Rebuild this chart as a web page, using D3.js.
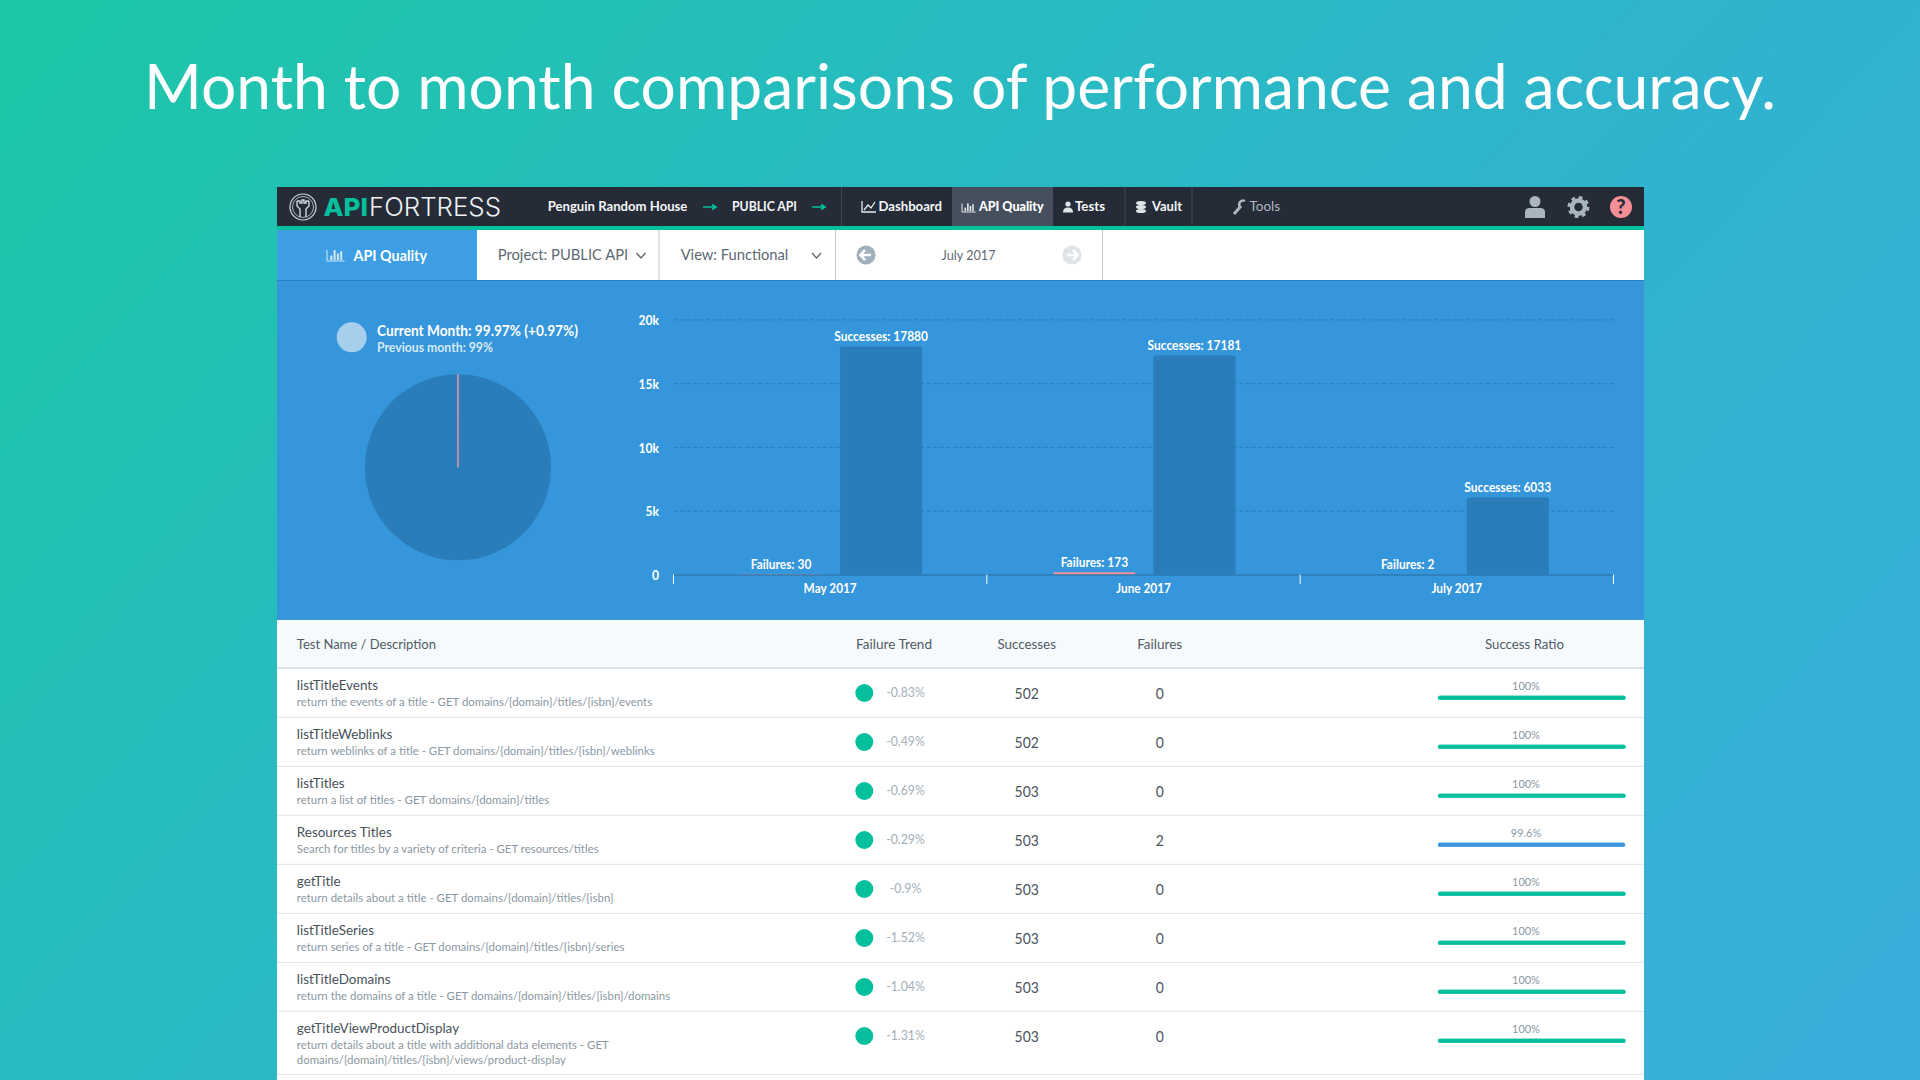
<!DOCTYPE html>
<html><head><meta charset="utf-8">
<script src="https://cdnjs.cloudflare.com/ajax/libs/d3/7.8.5/d3.min.js"></script>
<style>
html,body{margin:0;padding:0;width:1920px;height:1080px;overflow:hidden;background:#26b8c0}
svg{display:block;font-family:Lato,sans-serif}
</style></head><body>
<script>
// ---------- data ----------
const months = ["May 2017","June 2017","July 2017"];
const successes = [17880,17181,6033];
const failures = [30,173,2];
const yTicks = [0,5000,10000,15000,20000];
const pieValues = [99.97,0.03];
const testNames = ["listTitleEvents","listTitleWeblinks","listTitles","Resources Titles","getTitle","listTitleSeries","listTitleDomains","getTitleViewProductDisplay"];
const testDescriptions = [
 ["return the events of a title - GET domains/{domain}/titles/{isbn}/events"],
 ["return weblinks of a title - GET domains/{domain}/titles/{isbn}/weblinks"],
 ["return a list of titles - GET domains/{domain}/titles"],
 ["Search for titles by a variety of criteria - GET resources/titles"],
 ["return details about a title - GET domains/{domain}/titles/{isbn}"],
 ["return series of a title - GET domains/{domain}/titles/{isbn}/series"],
 ["return the domains of a title - GET domains/{domain}/titles/{isbn}/domains"],
 ["return details about a title with additional data elements - GET","domains/{domain}/titles/{isbn}/views/product-display"]
];
const failureTrend = ["-0.83%","-0.49%","-0.69%","-0.29%","-0.9%","-1.52%","-1.04%","-1.31%"];
const testSuccesses = [502,502,503,503,503,503,503,503];
const testFailures = [0,0,0,2,0,0,0,0];
const testRatio = [100,100,100,99.6,100,100,100,100];
const tableHeaders = ["Test Name / Description","Failure Trend","Successes","Failures","Success Ratio"];

// ---------- helpers ----------
const svg = d3.select("body").append("svg").attr("width",1920).attr("height",1080);
const defs = svg.append("defs");
const grad = defs.append("linearGradient").attr("id","bg").attr("gradientUnits","userSpaceOnUse")
  .attr("x1",0).attr("y1",0).attr("x2",1582).attr("y2",1448);
[[0,"#1cc7a5"],[.34,"#27bcc0"],[.625,"#30b3ce"],[1,"#3aaedc"]].forEach(s=>grad.append("stop").attr("offset",s[0]).attr("stop-color",s[1]));
svg.append("rect").attr("width",1920).attr("height",1080).attr("fill","url(#bg)");

const SQUEEZE = 0.93;
function txt(parent,x,y,s,o={}){
  const t = parent.append("text").attr("x",x).attr("y",y).text(s)
    .attr("font-size",o.size||13).attr("font-weight",o.weight||400)
    .attr("fill",o.fill||"#fff").attr("text-anchor",o.anchor||"start");
  if(o.font) t.attr("font-family",o.font);
  const len = t.node().getComputedTextLength();
  const target = o.width || len*(o.squeeze||SQUEEZE);
  t.attr("textLength",target).attr("lengthAdjust","spacingAndGlyphs");
  return t;
}
function rect(p,x0,y0,x1,y1,fill){return p.append("rect").attr("x",x0).attr("y",y0).attr("width",x1-x0).attr("height",y1-y0).attr("fill",fill);}
function vline(p,x,y0,y1,c){return p.append("line").attr("x1",x).attr("x2",x).attr("y1",y0).attr("y2",y1).attr("stroke",c).attr("stroke-width",1);}

// ---------- title ----------
txt(svg,960,109,"Month to month comparisons of performance and accuracy.",{size:62,weight:400,anchor:"middle",width:1632,squeeze:1});

// ---------- app frame ----------
const L=277,R=1644;
rect(svg,L,187,R,1080,"#fff");
const nav = svg.append("g");
rect(nav,L,187,R,226,"#252c38");
rect(nav,L,226,R,230,"#05bf9d");
rect(nav,952,187,1053,226,"#454f5e");
[841.5,1125,1192].forEach(x=>vline(nav,x,187,226,"#3f4753"));

// logo
const logo = nav.append("g").attr("transform","translate(303,207)").attr("fill","none").attr("stroke","#cfd6dc");
logo.append("circle").attr("r",13).attr("stroke-width",1.2);
logo.append("circle").attr("r",10.5).attr("stroke-width",.8);
logo.append("path").attr("stroke-width",1.4).attr("d","M-6,-6V-1L-3,2V10M6,-6V-1L3,2V10M-6,-6H-3V-4H-1V-7H1V-4H3V-6H6");
txt(nav,323.5,216,"API",{size:25,weight:800,fill:"#05bf9d",font:"Inter",width:44.5});
txt(nav,369,216,"FORTRESS",{size:25,weight:300,fill:"#eef1f3",font:"Inter",width:132});

// breadcrumbs
txt(nav,547.7,211,"Penguin Random House",{size:14,weight:700,width:139.7,fill:"#f4f6f8"});
txt(nav,732,211,"PUBLIC API",{size:14,weight:700,width:65,fill:"#f4f6f8"});
[703,812].forEach(x=>{
  nav.append("path").attr("d",`M${x},207H${x+12}M${x+9},204.5L${x+13},207L${x+9},209.5`).attr("stroke","#05bf9d").attr("stroke-width",1.7).attr("fill","none");
});
// nav items
txt(nav,878.5,211,"Dashboard",{size:14,weight:700,width:63.5,fill:"#f4f6f8"});
txt(nav,979,211,"API Quality",{size:14,weight:900,width:64.7,fill:"#fff"});
txt(nav,1075,211,"Tests",{size:14,weight:700,width:30,fill:"#f4f6f8"});
txt(nav,1152,211,"Vault",{size:14,weight:700,width:30,fill:"#f4f6f8"});
txt(nav,1249.5,211,"Tools",{size:14,weight:400,width:30.5,fill:"#aeb8c1"});
// nav icons
nav.append("path").attr("d","M862,201V212H876M864,210L868,205L871,208L875,202").attr("stroke","#e8ecef").attr("stroke-width",1.3).attr("fill","none");
function barsIcon(p,x,y,c,s){
  p.append("path").attr("d",`M${x},${y-10*s}V${y}H${x+16*s}`).attr("stroke",c).attr("stroke-width",1).attr("fill","none");
  [[3,4],[6,9],[9,6],[12,8]].forEach(d=>rect(p,x+d[0]*s,y-1-d[1]*s,x+(d[0]+1.8)*s,y-1,c));
}
barsIcon(nav,962,212,"#e8ecef",.85);
nav.append("circle").attr("cx",1068).attr("cy",204).attr("r",2.6).attr("fill","#dfe4e8");
nav.append("path").attr("d","M1063,212.5Q1063,207.5 1068,207.5Q1073,207.5 1073,212.5Z").attr("fill","#dfe4e8");
[203,207,211].forEach(y=>nav.append("ellipse").attr("cx",1141).attr("cy",y).attr("rx",5).attr("ry",2).attr("fill","#dfe4e8"));
nav.append("path").attr("d","M1234,214L1241,206").attr("stroke","#aeb8c1").attr("stroke-width",3);
nav.append("path").attr("d","M1240,207A4,4 0 0 1 1245,201").attr("stroke","#aeb8c1").attr("stroke-width",2.4).attr("fill","none");
// user, gear, help
nav.append("circle").attr("cx",1535).attr("cy",201.5).attr("r",5.5).attr("fill","#a9b6bf");
nav.append("path").attr("d","M1525,218V212Q1525,208 1530,208H1540Q1545,208 1545,212V218Z").attr("fill","#a9b6bf");
nav.append("circle").attr("cx",1578.5).attr("cy",207).attr("r",6.5).attr("fill","none").attr("stroke","#a9b6bf").attr("stroke-width",4.5);
nav.append("circle").attr("cx",1578.5).attr("cy",207).attr("r",9.5).attr("fill","none").attr("stroke","#a9b6bf").attr("stroke-width",3).attr("stroke-dasharray","3.7 3.76");
nav.append("circle").attr("cx",1621).attr("cy",207).attr("r",11).attr("fill","#f68e95");
txt(nav,1621,214,"?",{size:20,weight:900,fill:"#252c38",anchor:"middle",squeeze:1});

// ---------- toolbar ----------
const bar = svg.append("g");
rect(bar,L,230,R,280,"#fff");
rect(bar,L,230,477,280,"#3e9ee4");
[659,835.5,1102.5].forEach(x=>vline(bar,x,230,280,"#bcc8d2"));
barsIcon(bar,327,261,"#d5e8f7",1.1);
txt(bar,353.5,261,"API Quality",{size:15.5,weight:700,width:73.5});
txt(bar,497.7,260,"Project: PUBLIC API",{size:15,width:130.5,fill:"#5d6974"});
txt(bar,680.7,260,"View: Functional",{size:15,width:107.5,fill:"#5d6974"});
txt(bar,941.5,260,"July 2017",{size:13.5,width:54,fill:"#5d6974"});
[636.5,812].forEach(x=>bar.append("path").attr("d",`M${x},253L${x+4.5},258L${x+9},253`).attr("stroke","#5d6974").attr("stroke-width",1.4).attr("fill","none"));
[[866,"#9fb0bd",-1],[1072,"#dde3e7",1]].forEach(([x,c,d])=>{
  bar.append("circle").attr("cx",x).attr("cy",255).attr("r",9.5).attr("fill",c);
  bar.append("path").attr("d",`M${x-5*d},255H${x+5*d}M${x+1*d},250L${x+5.5*d},255L${x+1*d},260`).attr("stroke","#fff").attr("stroke-width",2.6).attr("fill","none");
});

// ---------- blue panel ----------
const panel = svg.append("g");
rect(panel,L,280,R,620,"#3596db");
rect(panel,L,280,R,281,"#2a80bd");

// legend
panel.append("circle").attr("cx",351.7).attr("cy",337.3).attr("r",15).attr("fill","#a5cfed");
txt(panel,377,336,"Current Month: 99.97% (+0.97%)",{size:15,weight:700,width:201});
txt(panel,377,351.5,"Previous month: 99%",{size:13,weight:700,width:116,fill:"#d7e9f7"});

// pie
const arc = d3.arc().innerRadius(0).outerRadius(93);
const pieG = panel.append("g").attr("transform","translate(458,467.3)");
const pie = d3.pie().sort(null).startAngle(0.0005).endAngle(Math.PI*2+0.0005);
pieG.selectAll("path").data(pie(pieValues)).join("path").attr("d",arc)
  .attr("fill",(d,i)=>i?"#f08f9a":"#2a7db8")
  .attr("stroke",(d,i)=>i?"#e39aa6":"none").attr("stroke-width",1);

// bars
const chartBottom=574.5, chartTop=319.5, chartLeft=673.5, chartRight=1613.5;
const y = d3.scaleLinear().domain([0,20000]).range([chartBottom,chartTop]);
const x0 = d3.scaleBand().domain(months).range([chartLeft,chartRight]);
const x1 = d3.scaleBand().domain(["Failures","Successes"]).range([0,x0.bandwidth()]).paddingInner(0.18).paddingOuter(0.656).align(0.507);
const fmtK = d=>d?(d/1000)+"k":"0";

const yAxis = panel.append("g").attr("transform",`translate(${chartLeft},0)`)
  .call(d3.axisLeft(y).tickValues(yTicks).tickFormat(fmtK).tickSize(0).tickPadding(14.5));
yAxis.select(".domain").remove();
yAxis.selectAll("text").attr("font-family","Lato").attr("font-size",13).attr("font-weight",700).attr("fill","#fff").attr("dy","0.4em")
  .each(function(){d3.select(this).attr("textLength",this.getComputedTextLength()*SQUEEZE).attr("lengthAdjust","spacingAndGlyphs");});

panel.append("g").selectAll("line").data(yTicks.filter(d=>d>0)).join("line")
  .attr("x1",chartLeft).attr("x2",chartRight).attr("y1",d=>y(d)+.4).attr("y2",d=>y(d)+.4)
  .attr("stroke","#2a7cbb").attr("stroke-width",1).attr("stroke-dasharray","4 2.5");

const rows = months.map((m,i)=>({m,vals:[{k:"Failures",v:failures[i],c:"#f4929c"},{k:"Successes",v:successes[i],c:"#2a7db8"}]}));
const groups = panel.append("g").selectAll("g").data(rows).join("g").attr("transform",d=>`translate(${x0(d.m)},0)`);
groups.selectAll("rect").data(d=>d.vals).join("rect")
  .attr("x",d=>x1(d.k)).attr("width",x1.bandwidth())
  .attr("y",d=>y(d.v)).attr("height",d=>chartBottom-y(d.v)).attr("rx",2).attr("fill",d=>d.c);
groups.each(function(d){
  const g=d3.select(this);
  d.vals.forEach(b=>txt(g,x1(b.k)+x1.bandwidth()/2,y(b.v)-5.5,`${b.k}: ${b.v}`,{size:13,weight:700,anchor:"middle",squeeze:.92}));
});

// x axis
const xAxis = panel.append("g").attr("transform",`translate(0,${chartBottom})`)
  .call(d3.axisBottom(x0).tickSize(0).tickPadding(9));
xAxis.select(".domain").attr("stroke","#2a6c9f").attr("stroke-width",1.2);
xAxis.selectAll("text").attr("font-family","Lato").attr("font-size",13).attr("font-weight",700).attr("fill","#fff")
  .each(function(){d3.select(this).attr("textLength",this.getComputedTextLength()*.91).attr("lengthAdjust","spacingAndGlyphs");});
panel.append("g").selectAll("line").data(months.concat("end")).join("line")
  .attr("x1",(d,i)=>chartLeft+i*x0.step()).attr("x2",(d,i)=>chartLeft+i*x0.step())
  .attr("y1",chartBottom).attr("y2",584).attr("stroke","#fff").attr("stroke-width",1);

// ---------- table ----------
const table = svg.append("g");
rect(table,L,620,R,668,"#f6fafd");
rect(table,L,667.5,R,668.5,"#b7c7d4");
const headCol = ["#4f5a64"];
txt(table,296.8,649,tableHeaders[0],{size:14,width:139.2,fill:headCol[0]});
txt(table,856,649,tableHeaders[1],{size:14,width:76,fill:headCol[0]});
txt(table,1026.7,649,tableHeaders[2],{size:14,anchor:"middle",width:58.5,fill:headCol[0]});
txt(table,1159.7,649,tableHeaders[3],{size:14,anchor:"middle",width:45,fill:headCol[0]});
txt(table,1524.5,649,tableHeaders[4],{size:14,anchor:"middle",width:79,fill:headCol[0]});

const ratioX = d3.scaleLinear().domain([0,100]).range([1438,1625.5]);
let rowTop = 668.3;
testNames.forEach((name,i)=>{
  const lines = testDescriptions[i];
  const h = 49 + (lines.length-1)*14;
  const g = table.append("g").attr("transform",`translate(0,${rowTop})`);
  txt(g,296.8,22,name,{size:14,fill:"#48525b",squeeze:.96});
  lines.forEach((l,j)=>txt(g,296.8,38+j*15,l,{size:12,fill:"#8a98a3",squeeze:.952}));
  g.append("circle").attr("cx",864.3).attr("cy",24.7).attr("r",9).attr("fill","#05bf9d");
  txt(g,905.5,29,failureTrend[i],{size:13.5,anchor:"middle",fill:"#a3b0ba",squeeze:.91});
  txt(g,1026.7,31,String(testSuccesses[i]),{size:15,anchor:"middle",fill:"#4d5660"});
  txt(g,1159.7,31,String(testFailures[i]),{size:15,anchor:"middle",fill:"#4d5660"});
  txt(g,1526,22,testRatio[i]+"%",{size:11.5,anchor:"middle",fill:"#8a98a3",squeeze:.95});
  const col = testRatio[i]===100?"#05bf9d":"#3a97dd";
  g.append("rect").attr("x",ratioX(0)+.3).attr("y",27.8).attr("width",ratioX(100)-ratioX(0)-.6).attr("height",3.4).attr("rx",1.7).attr("fill","#fff").attr("stroke",col).attr("stroke-width",.6);
  g.append("rect").attr("x",ratioX(0)).attr("y",27.5).attr("width",ratioX(testRatio[i])-ratioX(0)).attr("height",4).attr("rx",1.5).attr("fill",col);
  rowTop += h;
  table.append("rect").attr("x",L).attr("y",rowTop-.5).attr("width",R-L).attr("height",1).attr("fill","#d9e4ec");
});
</script></body></html>
